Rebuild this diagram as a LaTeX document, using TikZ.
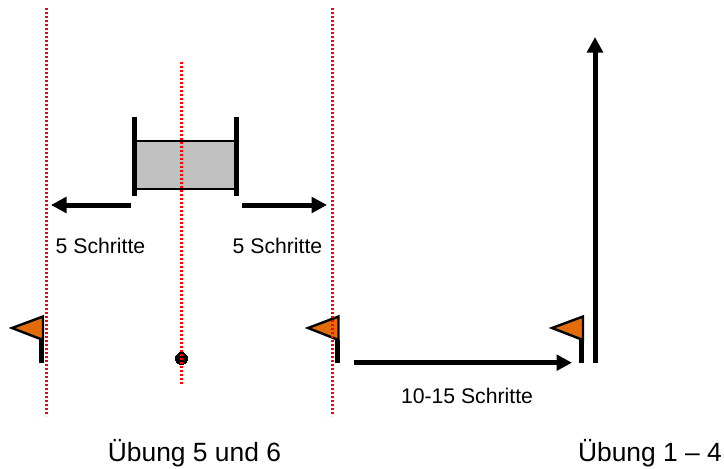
\documentclass[tikz,border=0pt]{standalone}
\usepackage{fontspec}
\setmainfont{Liberation Sans}
\usetikzlibrary{arrows.meta}
\definecolor{flagor}{RGB}{226,108,10}
\definecolor{goalgrey}{RGB}{192,192,192}
\definecolor{dotred}{RGB}{255,0,0}
\tikzset{
  x=1pt,y=-1pt,
  redline/.style={draw=dotred,line width=3pt,dash pattern=on 2pt off 2pt},
  pole/.style={draw=black,line width=5pt},
  flagshape/.style={draw=black,fill=flagor,line width=2.4pt,line join=miter},
  bigarrow/.style={draw=black,line width=5pt,-{Triangle[length=15.5pt,width=15.5pt]}},
  small/.style={font=\fontsize{21.2pt}{25pt}\selectfont,inner sep=0pt,anchor=base},
  big/.style={font=\fontsize{26.4pt}{31pt}\selectfont,inner sep=0pt,anchor=base}
}
\begin{document}
\begin{tikzpicture}
\useasboundingbox (0,0) rectangle (724,469);
% goal
\node[draw=black,fill=goalgrey,line width=2pt,minimum width=100pt,minimum height=48pt,inner sep=0pt,anchor=center] (goal) at (185.5,165) {};
\coordinate (gl1) at (134.5,117); \coordinate (gl2) at (134.5,196);
\coordinate (gr1) at (236.5,117); \coordinate (gr2) at (236.5,196);
\draw[pole] (gl1) -- (gl2);
\draw[pole] (gr1) -- (gr2);
% flags
\coordinate (f1a) at (41,340); \coordinate (f1b) at (41,363);
\coordinate (f2a) at (337.5,340); \coordinate (f2b) at (337.5,363);
\coordinate (f3a) at (581,340); \coordinate (f3b) at (581,363);
\draw[pole] (f1a) -- (f1b);
\draw[pole] (f2a) -- (f2b);
\draw[pole] (f3a) -- (f3b);
\draw[flagshape] (12,328) -- (43,316.5) -- (43,340) -- cycle;
\draw[flagshape] (308,328) -- (338.5,316.5) -- (338.5,340) -- cycle;
\draw[flagshape] (552,328) -- (583,316.5) -- (583,340) -- cycle;
% marker
\node[circle,draw=black,fill=black,minimum size=12pt,inner sep=0pt,line width=0pt] (mark) at (181.5,358.5) {};
% red lines
\coordinate (r1a) at (46.5,8); \coordinate (r1b) at (46.5,416);
\coordinate (r2a) at (332.5,8); \coordinate (r2b) at (332.5,416);
\coordinate (r3a) at (181.5,62); \coordinate (r3b) at (181.5,385);
\draw[redline] (r1a) -- (r1b);
\draw[redline] (r2a) -- (r2b);
\draw[redline] (r3a) -- (r3b);
% arrows
\coordinate (a1s) at (131,205); \coordinate (a1e) at (51,205);
\coordinate (a2s) at (242,205); \coordinate (a2e) at (327,205);
\coordinate (a3s) at (354,362.7); \coordinate (a3e) at (572,362.7);
\coordinate (a4s) at (595,362.7); \coordinate (a4e) at (595,37);
\draw[bigarrow] (a1s) -- (a1e);
\draw[bigarrow] (a2s) -- (a2e);
\draw[bigarrow] (a3s) -- (a3e);
\draw[bigarrow] (a4s) -- (a4e);
% labels
\node[small] (t1) at (100.5,253.3) {5 Schritte};
\node[small] (t2) at (277.5,253.3) {5 Schritte};
\node[small] (t3) at (467,403) {10-15 Schritte};
\node[big] (t4) at (194.5,461.7) {Übung 5 und 6};
\node[big] (t5) at (650,461.7) {Übung 1 – 4};
\end{tikzpicture}
\end{document}
